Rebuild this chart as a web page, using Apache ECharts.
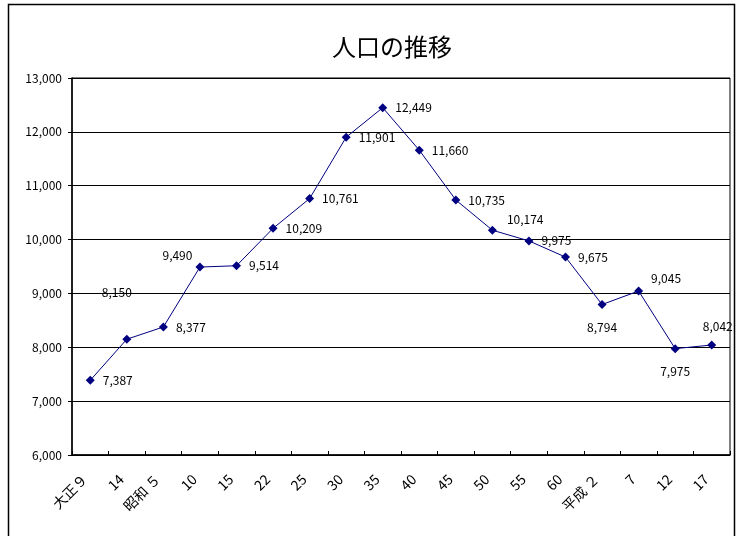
<!DOCTYPE html>
<html>
<head>
<meta charset="utf-8">
<script src="https://cdn.jsdelivr.net/npm/echarts@6/dist/echarts.min.js"></script>
<style>
html,body{margin:0;padding:0;background:#fff;}
#chart{width:741px;height:536px;}
</style>
</head>
<body>
<div id="chart"></div>
<script>
// 年次
var years = ['大正９', '14', '昭和 ５', '10', '15', '22', '25', '30', '35', '40', '45', '50', '55', '60', '平成 ２', '7', '12', '17'];
// 人口
var population = [7387, 8150, 8377, 9490, 9514, 10209, 10761, 11901, 12449, 11660, 10735, 10174, 9975, 9675, 8794, 9045, 7975, 8042];
// ラベル位置
var labelPos = ['right', 'top', 'right', 'left', 'right', 'right', 'right', 'right', 'right', 'right', 'right', 'right', 'right', 'right', 'bottom', 'right', 'bottom', 'top'];

var fontJP = '"Noto Sans CJK JP", "DejaVu Sans", sans-serif';

var seriesData = population.map(function (v, i) {
    var lab = {position: labelPos[i]};
    if (labelPos[i] == 'bottom') lab.distance = 12;
    if (i == 1) { lab.distance = 36; lab.offset = [-10, 0]; }
    if (i == 3) lab.offset = [5, -12];
    if (i == 11) lab.offset = [2, -11];
    if (i == 15) lab.offset = [0, -13];
    if (i == 17) { lab.distance = 8; lab.offset = [6, 0]; }
    return {value: v, label: lab};
});

var chart = echarts.init(document.getElementById('chart'));
chart.setOption({
    animation: false,
    backgroundColor: '#fff',
    title: {
        text: '人口の推移',
        left: 327,
        top: 30,
        textStyle: {fontFamily: fontJP, fontSize: 24, fontWeight: 'normal', color: '#000'}
    },
    graphic: [{
        type: 'rect',
        shape: {x: 8.5, y: 4.5, width: 726, height: 560},
        style: {fill: 'none', stroke: '#000', lineWidth: 1.5}
    }],
    grid: {left: 72, right: 11, top: 78, bottom: 81, show: true, borderColor: '#000', borderWidth: 1},
    xAxis: {
        type: 'category',
        data: years,
        boundaryGap: true,
        axisLine: {lineStyle: {color: '#000', width: 1.5}},
        axisTick: {show: true, inside: true, length: 4, lineStyle: {color: '#000'}},
        axisLabel: {
            rotate: 45,
            interval: 0,
            margin: 16,
            padding: [0, 8, 0, 0],
            fontFamily: fontJP,
            fontSize: 14,
            color: '#000'
        }
    },
    yAxis: {
        type: 'value',
        min: 6000,
        max: 13000,
        interval: 1000,
        axisLine: {show: true, lineStyle: {color: '#000', width: 1.5}},
        axisTick: {show: true, length: 4, lineStyle: {color: '#000'}},
        splitLine: {lineStyle: {color: '#000', width: 1}},
        axisLabel: {
            fontFamily: fontJP,
            fontSize: 12,
            color: '#000',
            margin: 10,
            formatter: function (v) { return v.toLocaleString('en-US'); }
        }
    },
    series: [{
        type: 'line',
        data: seriesData,
        symbol: 'diamond',
        symbolSize: 9,
        lineStyle: {color: '#000080', width: 1},
        itemStyle: {color: '#000080'},
        label: {
            show: true,
            distance: 8,
            fontFamily: fontJP,
            fontSize: 12,
            color: '#000',
            formatter: function (p) { return p.value.toLocaleString('en-US'); }
        }
    }]
});
</script>
</body>
</html>
